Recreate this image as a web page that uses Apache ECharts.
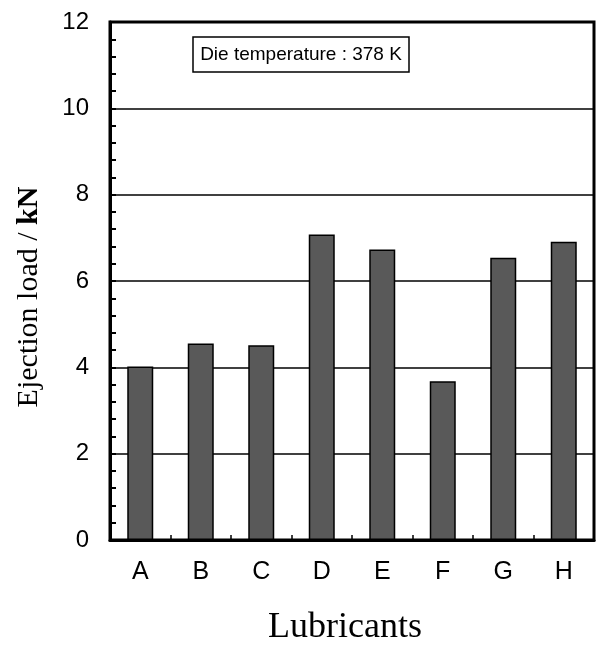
<!DOCTYPE html>
<html><head><meta charset="utf-8">
<script src="https://cdn.jsdelivr.net/npm/echarts@6/dist/echarts.min.js"></script>
<style>html,body{margin:0;padding:0;background:#fff}#c{width:597px;height:645px}</style>
</head><body><div id="c"></div>
<script>
const categories = ['A','B','C','D','E','F','G','H'];
const ejectionLoad = [4.02, 4.55, 4.51, 7.08, 6.73, 3.68, 6.54, 6.91];
const yTicks = [0, 2, 4, 6, 8, 10, 12];

const serif = '"Liberation Serif", "DejaVu Serif", serif';
const chart = echarts.init(document.getElementById('c'));
chart.setOption({
  animation: false,
  backgroundColor: '#fff',
  grid: {left: 110, right: 3, top: 22, bottom: 105, show: true, borderColor: '#000', borderWidth: 3, backgroundColor: 'transparent'},
  graphic: [{
    type: 'rect', shape: {x: 193, y: 37, width: 216, height: 35}, z: 99,
    style: {fill: '#fff', stroke: '#000', lineWidth: 1.5}
  }, {
    type: 'text', x: 301, y: 55, z: 100,
    style: {text: 'Die temperature : 378 K', font: '19px "Liberation Sans", Arial, sans-serif', fill: '#000',
      align: 'center', verticalAlign: 'middle'}
  }, {
    type: 'text', x: 345, y: 628,
    style: {text: 'Lubricants', font: '36px ' + serif, fill: '#000', align: 'center', verticalAlign: 'middle'}
  }, {
    type: 'text', x: 29, y: 297, rotation: Math.PI / 2,
    style: {text: '{a|Ejection load / }{b|kN}', align: 'center', verticalAlign: 'middle',
      rich: {
        a: {fontSize: 30, fontFamily: serif, fill: '#000', color: '#000'},
        b: {fontSize: 30, fontWeight: 'bold', fontFamily: serif, fill: '#000', color: '#000'}}}
  }],
  xAxis: {
    type: 'category', data: categories, boundaryGap: true,
    axisLine: {show: true, lineStyle: {color: '#000', width: 3}},
    axisTick: {show: true, inside: true, length: 5, alignWithLabel: false, lineStyle: {color: '#000', width: 1.5}},
    axisLabel: {color: '#000', fontSize: 25, fontFamily: '"Liberation Sans Narrow", "Liberation Sans", sans-serif', margin: 20},
    splitLine: {show: false}
  },
  yAxis: {
    type: 'value', min: yTicks[0], max: yTicks[yTicks.length-1], interval: 2,
    axisLine: {show: true, lineStyle: {color: '#000', width: 3}},
    axisTick: {show: true, inside: true, length: 6, lineStyle: {color: '#000', width: 2}},
    minorTick: {show: true, splitNumber: 5, length: 6, lineStyle: {color: '#000', width: 2}},
    axisLabel: {color: '#000', fontSize: 24, fontFamily: '"Liberation Sans", Arial, sans-serif', margin: 21},
    splitLine: {show: true, lineStyle: {color: '#000', width: 1.5}}
  },
  series: [{
    type: 'bar', data: ejectionLoad, barWidth: 26,
    itemStyle: {color: '#595959', borderColor: '#000', borderWidth: 1.5}
  }]
});
</script></body></html>
